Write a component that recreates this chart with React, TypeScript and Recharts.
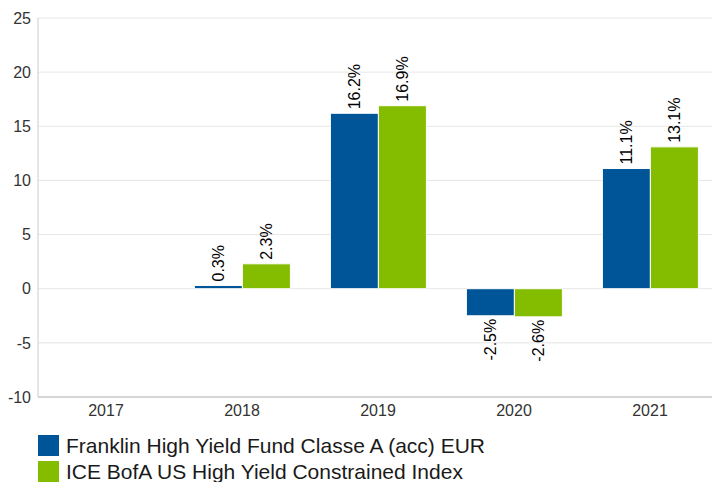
import { BarChart, Bar, XAxis, YAxis, CartesianGrid, LabelList } from 'recharts'

const years = ['2017', '2018', '2019', '2020', '2021']
const fundValues = [null, 0.3, 16.2, -2.5, 11.1]
const indexValues = [null, 2.3, 16.9, -2.6, 13.1]
const yTicks = [-10, -5, 0, 5, 10, 15, 20, 25]

const fundName = 'Franklin High Yield Fund Classe A (acc) EUR'
const indexName = 'ICE BofA US High Yield Constrained Index'
const BLUE = '#005598'
const GREEN = '#84bc00'
const FONT = '"Liberation Sans", Arial, sans-serif'

const data = years.map((year, i) => ({ year, fund: fundValues[i], index: indexValues[i] }))

function RotatedLabel(props: any) {
  const { x, y, width, height, value } = props
  if (value === null || value === undefined) return null
  const cx = Number(x) + Number(width) / 2
  const top = Math.min(Number(y), Number(y) + Number(height))
  const bottom = Math.max(Number(y), Number(y) + Number(height))
  const pos = value >= 0
  const py = pos ? top - 4 : bottom + 3
  return (
    <text
      x={cx}
      y={py}
      transform={`rotate(-90 ${cx} ${py})`}
      textAnchor={pos ? 'start' : 'end'}
      dominantBaseline="central"
      fontSize={16}
      fontFamily={FONT}
      fill="#000"
    >
      {`${value.toFixed(1)}%`}
    </text>
  )
}

export default function App() {
  return (
    <div style={{ position: 'absolute', left: 0, top: 0, width: 712, height: 482, overflow: 'hidden', background: '#fff', fontFamily: FONT }}>
      <BarChart
        width={718}
        height={420}
        data={data}
        margin={{ top: 18, right: 0, bottom: 0, left: 0 }}
        barCategoryGap="15%"
        barGap={0}
      >
        <CartesianGrid vertical={false} stroke="#e6e6e6" />
        <XAxis
          dataKey="year"
          height={23}
          axisLine={{ stroke: '#b8b8b8' }}
          tickLine={false}
          tick={{ fill: '#333', fontSize: 16, fontFamily: FONT }}
        />
        <YAxis
          width={38}
          domain={[-10, 25]}
          ticks={yTicks}
          interval={0}
          axisLine={{ stroke: '#cccccc' }}
          tickLine={false}
          tickMargin={1}
          tick={{ fill: '#333', fontSize: 16, fontFamily: FONT }}
        />
        <Bar dataKey="fund" fill={BLUE} stroke="#ffffff" strokeWidth={1} isAnimationActive={false}>
          <LabelList dataKey="fund" content={RotatedLabel} />
        </Bar>
        <Bar dataKey="index" fill={GREEN} stroke="#ffffff" strokeWidth={1} isAnimationActive={false}>
          <LabelList dataKey="index" content={RotatedLabel} />
        </Bar>
      </BarChart>
      <div style={{ position: 'absolute', left: 38, top: 432 }}>
        {[
          { name: fundName, color: BLUE },
          { name: indexName, color: GREEN },
        ].map((item) => (
          <div key={item.name} style={{ display: 'flex', alignItems: 'center', height: 26 }}>
            <span style={{ width: 21, height: 21, background: item.color, display: 'inline-block', marginRight: 7 }} />
            <span style={{ fontSize: 21, color: '#1a1a1a', lineHeight: '21px' }}>{item.name}</span>
          </div>
        ))}
      </div>
    </div>
  )
}
